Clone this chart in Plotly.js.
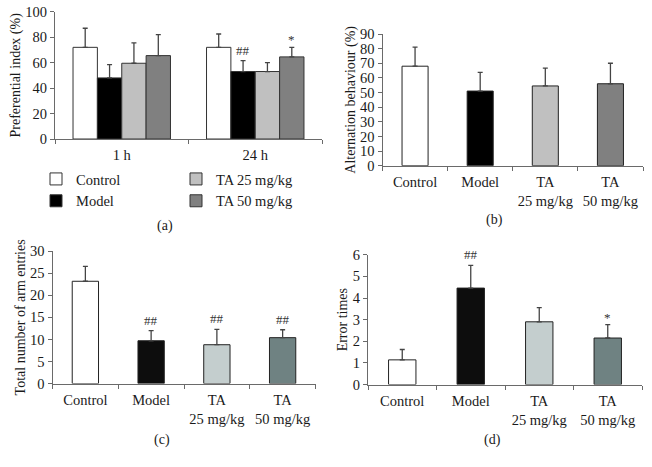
<!DOCTYPE html>
<html>
<head>
<meta charset="utf-8">
<script src="https://cdn.plot.ly/plotly-3.0.1.min.js"></script>
<style>html,body{margin:0;padding:0;background:#fff;}#chart{width:652px;height:467px;}</style>
</head>
<body>
<div id="chart"></div>
<script>
// ---------- Data ----------
const timeCats = ["1 h", "24 h"];
const groupNames = ["Control", "Model", "TA 25 mg/kg", "TA 50 mg/kg"];
const groupTickLabels = ["Control", "Model", "TA<br>25 mg/kg", "TA<br>50 mg/kg"];

// (a) Preferential index (%)  [1 h, 24 h] per group
const prefControl = [72, 72];
const prefModel = [48, 53];
const prefTA25 = [59.5, 53];
const prefTA50 = [65.5, 64.5];
const prefControlErr = [15, 10.5];
const prefModelErr = [10.5, 8.5];
const prefTA25Err = [16, 7];
const prefTA50Err = [16.5, 7.5];
const prefMarks = [["", ""], ["", "##"], ["", ""], ["", "*"]];

// (b) Alternation behaviour (%)
const altValues = [68, 51, 54.5, 56];
const altErr = [13, 12.8, 12.2, 14];

// (c) Total number of arm entries
const armValues = [23.2, 9.7, 8.8, 10.4];
const armErr = [3.4, 2.3, 3.5, 1.8];
const armMarks = ["", "##", "##", "##"];

// (d) Error times
const errValues = [1.14, 4.46, 2.9, 2.15];
const errErr = [0.48, 1.05, 0.66, 0.62];
const errMarks = ["", "##", "", "*"];

// ---------- Styles ----------
const grayColors = ["#ffffff", "#000000", "#c0c0c0", "#808080"];
const blueGrayColors = ["#ffffff", "#0d0d0d", "#c4cece", "#6f8282"];
const serif = "'Liberation Serif', 'Times New Roman', serif";
const lineCol = "#6a6a6a";
const textCol = "#1a1a1a";

const zeros = n => new Array(n).fill(0);

const traces = [];
const prefVals = [prefControl, prefModel, prefTA25, prefTA50];
const prefErrs = [prefControlErr, prefModelErr, prefTA25Err, prefTA50Err];
groupNames.forEach((name, i) => {
  traces.push({
    type: "bar", name: name, x: timeCats, y: prefVals[i],
    xaxis: "x", yaxis: "y",
    legend: i < 2 ? "legend" : "legend2",
    marker: {color: grayColors[i], line: {color: "#333", width: 1}},
    error_y: {type: "data", symmetric: false, array: prefErrs[i], arrayminus: zeros(2),
              color: "#444", thickness: 1.3, width: 2.5}
  });
});

function single(vals, errs, colors, xa, ya) {
  return {
    type: "bar", x: groupTickLabels, y: vals, xaxis: xa, yaxis: ya, showlegend: false,
    width: 0.4,
    marker: {color: colors, line: {color: "#222", width: 1}},
    error_y: {type: "data", symmetric: false, array: errs, arrayminus: zeros(vals.length),
              color: "#444", thickness: 1.3, width: 2.5}
  };
}
traces.push(single(altValues, altErr, grayColors, "x2", "y2"));
traces.push(single(armValues, armErr, blueGrayColors, "x3", "y3"));
traces.push(single(errValues, errErr, blueGrayColors, "x4", "y4"));

// ---------- Annotations ----------
const annotations = [];
const markFont = {family: serif, size: 13, color: "#333"};
// (a): grouped bars, shift each mark to its bar
const aBarPx = 24.3;
prefMarks.forEach((marks, i) => {
  marks.forEach((m, j) => {
    if (!m) return;
    annotations.push({
      text: m, xref: "x", yref: "y", x: timeCats[j], y: prefVals[i][j] + prefErrs[i][j],
      xshift: (i - 1.5) * aBarPx, yshift: m === "*" ? -2 : 1, yanchor: "bottom",
      showarrow: false, font: markFont
    });
  });
});
armMarks.forEach((m, i) => {
  if (!m) return;
  annotations.push({text: m, xref: "x3", yref: "y3", x: groupTickLabels[i], y: armValues[i] + armErr[i],
    yanchor: "bottom", yshift: 1, showarrow: false, font: markFont});
});
errMarks.forEach((m, i) => {
  if (!m) return;
  annotations.push({text: m, xref: "x4", yref: "y4", x: groupTickLabels[i], y: errValues[i] + errErr[i],
    yanchor: "bottom", yshift: m === "*" ? -2 : 1, showarrow: false, font: markFont});
});
// panel labels
[["(a)", 165, 226], ["(b)", 495, 220], ["(c)", 162, 440], ["(d)", 492, 440]].forEach(p => {
  annotations.push({text: p[0], xref: "paper", yref: "paper", x: p[1] / 652, y: 1 - p[2] / 467,
    xanchor: "center", yanchor: "middle", showarrow: false, font: {family: serif, size: 14, color: textCol}});
});

// ---------- Axes ----------
function xax(domain, anchor) {
  return {domain: domain, anchor: anchor, type: "category", showline: true, linecolor: lineCol, linewidth: 1,
    ticks: "outside", tickson: "boundaries", ticklen: 4, tickcolor: lineCol, showgrid: false, zeroline: false,
    ticklabelstandoff: 3,
    tickfont: {family: serif, size: 14.5, color: textCol}, fixedrange: true};
}
function yax(domain, anchor, range, dtick, title) {
  return {domain: domain, anchor: anchor, range: range, dtick: dtick, showline: true, linecolor: lineCol, linewidth: 1,
    ticks: "outside", ticklen: 4, tickcolor: lineCol, showgrid: false, zeroline: false,
    tickfont: {family: serif, size: 14.5, color: textCol},
    title: {text: title, font: {family: serif, size: 14, color: textCol}, standoff: 1}, fixedrange: true};
}

const legendFont = {family: serif, size: 14.5, color: textCol};
const layout = {
  width: 652, height: 467, margin: {l: 0, r: 0, t: 0, b: 0},
  paper_bgcolor: "#fff", plot_bgcolor: "#fff",
  barmode: "group", bargap: 0.27, bargroupgap: 0,
  xaxis: xax([55 / 652, 322 / 652], "y"),
  yaxis: yax([1 - 139 / 467, 1 - 11.7 / 467], "x", [0, 100], 20, "Preferential index (%)"),
  xaxis2: xax([382.5 / 652, 643 / 652], "y2"),
  yaxis2: yax([1 - 165.7 / 467, 1 - 34 / 467], "x2", [0, 90], 10, "Alternation behaviour (%)"),
  xaxis3: xax([52.5 / 652, 315.5 / 652], "y3"),
  yaxis3: yax([1 - 383.5 / 467, 1 - 251.3 / 467], "x3", [0, 30], 5, "Total number of arm entries"),
  xaxis4: xax([368 / 652, 642 / 652], "y4"),
  yaxis4: yax([1 - 384.5 / 467, 1 - 254.8 / 467], "x4", [0, 6], 1, "Error times"),
  legend: {x: 36 / 652, y: 1 - 163 / 467, xanchor: "left", yanchor: "top", orientation: "v",
    font: legendFont, bgcolor: "rgba(0,0,0,0)", tracegroupgap: 0, itemwidth: 30},
  legend2: {x: 176 / 652, y: 1 - 163 / 467, xanchor: "left", yanchor: "top", orientation: "v",
    font: legendFont, bgcolor: "rgba(0,0,0,0)", tracegroupgap: 0, itemwidth: 30},
  annotations: annotations
};

Plotly.newPlot("chart", traces, layout, {displayModeBar: false, staticPlot: true});
</script>
</body>
</html>
